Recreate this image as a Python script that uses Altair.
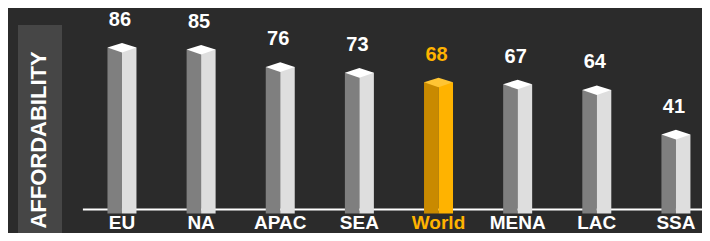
import altair as alt
import pandas as pd

# ---- data ----
categories = ["EU", "NA", "APAC", "SEA", "World", "MENA", "LAC", "SSA"]
values = [86, 85, 76, 73, 68, 67, 64, 41]
highlight_name = "World"
axis_title = ["AFFORDABILITY"]

df = pd.DataFrame({"region": categories, "value": values})

BG = "#2b2b2b"
BOX = "#464646"
FONT = "Liberation Sans"
ORANGE = "#ffb300"

is_hl = alt.datum.region == highlight_name

x_axis = alt.Axis(
    domain=True, domainColor="#ffffff", domainWidth=2, ticks=False, grid=False,
    labelFont=FONT, labelFontSize=19, labelFontWeight="bold",
    labelBaseline="alphabetic", labelPadding=19,
    labelAngle=0, title=None,
    labelColor={"condition": {"test": f"datum.value == '{highlight_name}'", "value": ORANGE},
                "value": "#ffffff"},
)
X = alt.X("region:N", sort=categories, axis=x_axis,
          scale=alt.Scale(range=[-2.6, 630.5], paddingInner=0, paddingOuter=0))
Y = alt.Y("value:Q", scale=alt.Scale(domain=[0, 100]), axis=None)

base = alt.Chart(df)

left = base.mark_bar(width=14.5, xOffset=-7.25, yOffset=4.6).encode(
    x=X, y=Y,
    color=alt.condition(is_hl, alt.value("#c98a00"), alt.value("#7f7f7f")),
)
right = base.mark_bar(width=14.5, xOffset=7.25, yOffset=4.6).encode(
    x=X, y=Y,
    color=alt.condition(is_hl, alt.value(ORANGE), alt.value("#dedede")),
)
DIAMOND = "M-1,0.317L0,0L1,0.317L0,0.66Z"
top = base.mark_point(shape=DIAMOND, size=841, filled=True, opacity=1, strokeWidth=0).encode(
    x=X, y=Y,
    color=alt.condition(is_hl, alt.value("#ffc534"), alt.value("#ffffff")),
)
labels = base.mark_text(dy=-17, dx=-2, baseline="alphabetic", font=FONT, fontSize=20,
                        fontWeight="bold").encode(
    x=X, y=Y, text="value:Q",
    color=alt.condition(is_hl, alt.value(ORANGE), alt.value("#ffffff")),
)

tdf = pd.DataFrame({"t": axis_title})
box = alt.Chart(tdf).mark_rect(color=BOX).encode(
    x=alt.value(-67), x2=alt.value(-23), y=alt.value(9), y2=alt.value(220)
)
ytitle = alt.Chart(tdf).mark_text(angle=270, font=FONT, fontSize=22, fontWeight="bold",
                                  color="#ffffff", baseline="middle", align="center").encode(
    x=alt.value(-46), y=alt.value(124), text="t:N"
)

chart = alt.layer(box, ytitle, left, right, top, labels).properties(
    width=617, height=193,
    background=BG,
    autosize=alt.AutoSizeParams(type="none"),
    padding={"left": 77, "top": 8, "right": 0, "bottom": 24},
).configure_view(strokeWidth=0)

chart.save("out.html", embed_options={"renderer": "svg", "actions": False})
